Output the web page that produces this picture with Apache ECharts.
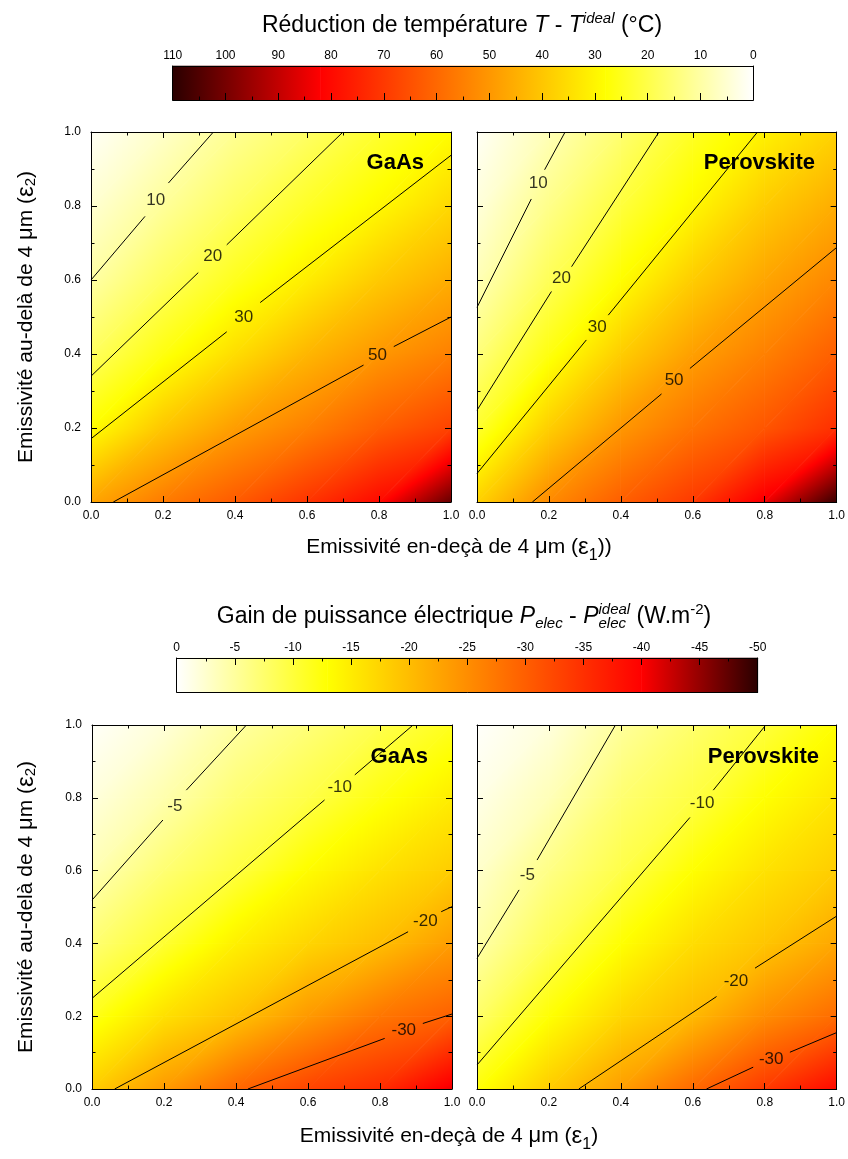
<!DOCTYPE html>
<html><head><meta charset="utf-8">
<script src="https://cdn.jsdelivr.net/npm/echarts@6/dist/echarts.min.js"></script>
<style>html,body{margin:0;padding:0;background:#fff}#c{width:848px;height:1159px}</style>
</head><body><div id="c"></div>
<script>
// ---------- DATA ----------
// grid nodes (both axes) and axis tick values
const gridNodes = [0, 0.2, 0.4, 0.6, 0.8, 1.0];
// colorbar tick labels
const tempTicks = [110, 100, 90, 80, 70, 60, 50, 40, 30, 20, 10, 0];
const powTicks = [0, -5, -10, -15, -20, -25, -30, -35, -40, -45, -50];
// colormaps (value, colour)
const tempStopV = [0, 28, 82, 110];
const tempStopC = ['#ffffff', '#ffff00', '#ff0000', '#2a0000'];
const powStopV = [-50, -40, -13, 0];
const powStopC = ['#2a0000', '#ff0000', '#ffff00', '#ffffff'];

// field values: one array per x node (x = 0,0.2,...,1), values listed for y = 0,0.2,...,1
const gaasTemp = [
  [47, 28.3, 17.7, 10, 5, 1],
  [56, 40, 26.3, 17.7, 11.2, 6],
  [63, 48.7, 35.2, 24.9, 17.6, 12],
  [71, 55, 43.4, 31.8, 23.8, 17],
  [80, 62, 50, 39.4, 29.5, 23],
  [102, 68, 55, 45.4, 36.3, 28.5]
];
const peroTemp = [
  [37.6, 22.8, 14.5, 8, 4, 1],
  [52.7, 38.3, 26.3, 18.5, 13, 8],
  [62, 50, 38.6, 28.3, 21.4, 15.7],
  [70, 57.7, 48.3, 38.8, 29.6, 24],
  [84, 64, 55, 47, 39, 31],
  [108, 72, 62, 53.5, 45.5, 37.5]
];
const gaasPow = [
  [-18.3, -11.7, -7.2, -3.8, -1.8, -0.3],
  [-23.7, -16.3, -10.5, -7.2, -4.2, -2],
  [-29.1, -19.5, -14.6, -9.8, -7.2, -4.8],
  [-32.8, -23.8, -17.5, -13.3, -9.4, -6.9],
  [-35.3, -27.5, -19.9, -16.1, -12.3, -9.1],
  [-41, -29.8, -23.4, -18.3, -14.9, -11.5]
];
const peroPow = [
  [-12.6, -7.7, -4.4, -2.6, -1.2, -0.2],
  [-18.4, -12.8, -8.7, -6.2, -3.6, -1.8],
  [-23.3, -17.3, -12.9, -9.3, -7.3, -5.1],
  [-28.9, -20.4, -16.6, -13, -9.6, -7.6],
  [-34, -25.2, -19.1, -16.1, -13, -10],
  [-39, -28.6, -22.3, -18.3, -15.7, -13]
];

// contour lines (segments broken where the label sits)
const gaasT10 = [[[0, 0.60], [0.150, 0.772]], [[0.215, 0.862], [0.34, 1.0]]];
const gaasT20 = [[[0, 0.34], [0.298, 0.62]], [[0.377, 0.695], [0.70, 1.0]]];
const gaasT30 = [[[0, 0.171], [0.377, 0.460]], [[0.47, 0.539], [1.0, 0.937]]];
const gaasT50 = [[[0.062, 0], [0.757, 0.370]], [[0.841, 0.42], [1.0, 0.50]]];
const peroT10 = [[[0, 0.526], [0.151, 0.819]], [[0.188, 0.898], [0.245, 1.0]]];
const peroT20 = [[[0, 0.248], [0.207, 0.569]], [[0.263, 0.636], [0.506, 1.0]]];
const peroT30 = [[[0, 0.077], [0.304, 0.438]], [[0.365, 0.505], [0.78, 1.0]]];
const peroT50 = [[[0.154, 0], [0.513, 0.292]], [[0.592, 0.361], [1.0, 0.688]]];
const gaasP5 = [[[0, 0.519], [0.197, 0.739]], [[0.262, 0.821], [0.429, 1.0]]];
const gaasP10 = [[[0, 0.249], [0.646, 0.794]], [[0.730, 0.863], [0.892, 1.0]]];
const gaasP20 = [[[0.063, 0], [0.878, 0.432]], [[0.970, 0.487], [1.0, 0.501]]];
const gaasP30 = [[[0.433, 0], [0.813, 0.139]], [[0.919, 0.180], [1.0, 0.206]]];
const peroP5 = [[[0, 0.359], [0.117, 0.547]], [[0.167, 0.629], [0.385, 1.0]]];
const peroP10 = [[[0, 0.066], [0.592, 0.746]], [[0.657, 0.821], [0.803, 1.0]]];
const peroP20 = [[[0.283, 0], [0.666, 0.254]], [[0.773, 0.332], [1.0, 0.475]]];
const peroP30 = [[[0.638, 0], [0.768, 0.06]], [[0.870, 0.101], [1.0, 0.155]]];

// contour labels [x, y, text]
const gaasTempLabels = [[0.18, 0.816, '10'], [0.338, 0.663, '20'], [0.424, 0.499, '30'], [0.796, 0.397, '50']];
const peroTempLabels = [[0.17, 0.862, '10'], [0.235, 0.605, '20'], [0.334, 0.472, '30'], [0.548, 0.33, '50']];
const gaasPowLabels = [[0.23, 0.776, '-5'], [0.688, 0.83, '-10'], [0.926, 0.462, '-20'], [0.866, 0.162, '-30']];
const peroPowLabels = [[0.14, 0.588, '-5'], [0.626, 0.786, '-10'], [0.72, 0.295, '-20'], [0.818, 0.082, '-30']];

const panelNames = ['GaAs', 'Perovskite', 'GaAs', 'Perovskite'];

// ---------- RENDERING ----------
const FONT = '"Liberation Sans", Arial, sans-serif';
function hex(h) { return [parseInt(h.substr(1, 2), 16), parseInt(h.substr(3, 2), 16), parseInt(h.substr(5, 2), 16)]; }
function colorAt(v, sv, sc) {
  const n = sv.length;
  if (v <= sv[0]) return 'rgb(' + hex(sc[0]).join(',') + ')';
  if (v >= sv[n - 1]) return 'rgb(' + hex(sc[n - 1]).join(',') + ')';
  let k = 0; while (k < n - 2 && v > sv[k + 1]) k++;
  const t = (v - sv[k]) / (sv[k + 1] - sv[k]);
  const a = hex(sc[k]), b = hex(sc[k + 1]);
  return 'rgb(' + a.map((c, i) => Math.round(c + (b[i] - c) * t)).join(',') + ')';
}
function triFill(p, f, sv, sc) {
  const d1x = p[1][0] - p[0][0], d1y = p[1][1] - p[0][1], d2x = p[2][0] - p[0][0], d2y = p[2][1] - p[0][1];
  const df1 = f[1] - f[0], df2 = f[2] - f[0];
  const det = d1x * d2y - d1y * d2x;
  const a = (df1 * d2y - df2 * d1y) / det, b = (d1x * df2 - d2x * df1) / det;
  const g2 = a * a + b * b;
  let kmin = 0, kmax = 0;
  for (let k = 1; k < 3; k++) { if (f[k] < f[kmin]) kmin = k; if (f[k] > f[kmax]) kmax = k; }
  const fmin = f[kmin], fmax = f[kmax];
  if (g2 < 1e-14 || fmax - fmin < 1e-9) return colorAt(fmin, sv, sc);
  const s = (fmax - fmin) / g2;
  const x0 = p[kmin][0], y0 = p[kmin][1];
  const stops = [{ offset: 0, color: colorAt(fmin, sv, sc) }];
  sv.forEach(v => { if (v > fmin && v < fmax) stops.push({ offset: (v - fmin) / (fmax - fmin), color: colorAt(v, sv, sc) }); });
  stops.push({ offset: 1, color: colorAt(fmax, sv, sc) });
  return { type: 'linear', x: x0, y: y0, x2: x0 + a * s, y2: y0 + b * s, colorStops: stops, global: true };
}
function heatRender(grid, sv, sc) {
  return function (params, api) {
    const i = api.value(2), j = api.value(3);
    const P = (a, b) => api.coord([gridNodes[i + a], gridNodes[j + b]]);
    const F = (a, b) => grid[i + a][j + b];
    const tri = (A, B, C) => {
      const pts = [P(A[0], A[1]), P(B[0], B[1]), P(C[0], C[1])];
      const fill = triFill(pts, [F(A[0], A[1]), F(B[0], B[1]), F(C[0], C[1])], sv, sc);
      return { type: 'polygon', shape: { points: pts }, style: { fill: fill, stroke: fill, lineWidth: 0.8 } };
    };
    return { type: 'group', children: [tri([0, 0], [1, 0], [1, 1]), tri([0, 0], [1, 1], [0, 1])] };
  };
}
function barRender(sv, sc) {
  return function (params, api) {
    const v0 = api.value(0), v1 = api.value(2);
    const pA = api.coord([v0, 0]), pB = api.coord([v1, 1]);
    const fill = { type: 'linear', x: pA[0], y: 0, x2: pB[0], y2: 0, global: true,
      colorStops: [{ offset: 0, color: colorAt(v0, sv, sc) }, { offset: 1, color: colorAt(v1, sv, sc) }] };
    return { type: 'rect', shape: { x: Math.min(pA[0], pB[0]), y: Math.min(pA[1], pB[1]), width: Math.abs(pB[0] - pA[0]), height: Math.abs(pB[1] - pA[1]) },
      style: { fill: fill, stroke: fill, lineWidth: 0.6 } };
  };
}

const grids = [
  { left: 91, top: 132, width: 360, height: 370 },
  { left: 477, top: 132, width: 360, height: 370 },
  { left: 92, top: 725, width: 360, height: 364 },
  { left: 477, top: 725, width: 360, height: 364 },
  { left: 172.7, top: 66, width: 580.6, height: 34 },
  { left: 176.7, top: 658, width: 581, height: 34 }
];
const xAxes = [], yAxes = [], series = [];
const lineCol = { color: '#000', width: 1 };
function panelAxes(g, showY) {
  const base = { type: 'value', gridIndex: g, min: gridNodes[0], max: gridNodes[gridNodes.length - 1], interval: gridNodes[1] - gridNodes[0], z: 10,
    axisLine: { show: true, onZero: false, lineStyle: lineCol },
    axisTick: { show: true, inside: true, length: 6, lineStyle: lineCol },
    minorTick: { show: true, splitNumber: 2, length: 3.5, lineStyle: lineCol },
    splitLine: { show: false }, minorSplitLine: { show: false } };
  const lab = (show, margin) => ({ show: show, margin: margin, color: '#000', fontSize: 12, fontFamily: FONT, formatter: v => v.toFixed(1) });
  xAxes.push(Object.assign({}, base, { position: 'bottom', axisLabel: lab(true, 8) }));
  xAxes.push(Object.assign({}, base, { position: 'top', axisLabel: { show: false } }));
  yAxes.push(Object.assign({}, base, { position: 'left', axisLabel: lab(showY, 10) }));
  yAxes.push(Object.assign({}, base, { position: 'right', axisLabel: { show: false } }));
}
panelAxes(0, true); panelAxes(1, false); panelAxes(2, true); panelAxes(3, false);

// colorbar axes
function cbAxes(g, ticks, labelTop, tickTop, interval) {
  const mn = Math.min(...ticks), mx = Math.max(...ticks);
  const base = { type: 'value', gridIndex: g, min: mn, max: mx, interval: interval, inverse: true, z: 10,
    axisLine: { show: true, onZero: false, lineStyle: lineCol }, splitLine: { show: false } };
  const tickOn = { axisTick: { show: true, inside: true, length: 7, lineStyle: lineCol }, minorTick: { show: true, splitNumber: 2, length: 3.5, lineStyle: lineCol } };
  const tickOff = { axisTick: { show: false }, minorTick: { show: false } };
  xAxes.push(Object.assign({}, base, tickTop ? tickOn : tickOff, { position: 'top',
    axisLabel: { show: true, margin: 4, color: '#000', fontSize: 12, fontFamily: FONT } }));
  xAxes.push(Object.assign({}, base, tickTop ? tickOff : tickOn, { position: 'bottom', axisLabel: { show: false } }));
  const yb = { type: 'value', gridIndex: g, min: 0, max: 1, z: 10, axisLine: { show: true, onZero: false, lineStyle: lineCol },
    axisTick: { show: false }, axisLabel: { show: false }, splitLine: { show: false } };
  yAxes.push(Object.assign({}, yb, { position: 'left' }));
  yAxes.push(Object.assign({}, yb, { position: 'right' }));
}
cbAxes(4, tempTicks, true, false, 10);
cbAxes(5, powTicks, true, true, 5);

// panels
const panelGrids = [gaasTemp, peroTemp, gaasPow, peroPow];
const panelStops = [[tempStopV, tempStopC], [tempStopV, tempStopC], [powStopV, powStopC], [powStopV, powStopC]];
const panelContours = [[gaasT10, gaasT20, gaasT30, gaasT50], [peroT10, peroT20, peroT30, peroT50],
  [gaasP5, gaasP10, gaasP20, gaasP30], [peroP5, peroP10, peroP20, peroP30]];
const panelLabels = [gaasTempLabels, peroTempLabels, gaasPowLabels, peroPowLabels];
panelGrids.forEach((grid, g) => {
  const cells = [];
  for (let i = 0; i < grid.length - 1; i++) for (let j = 0; j < grid[0].length - 1; j++) cells.push([gridNodes[i], gridNodes[j], i, j]);
  series.push({ type: 'custom', xAxisIndex: 2 * g, yAxisIndex: 2 * g, renderItem: heatRender(grid, panelStops[g][0], panelStops[g][1]),
    data: cells, clip: true, silent: true, z: 1, encode: { x: 0, y: 1 } });
  panelContours[g].forEach(c => c.forEach(seg => {
    series.push({ type: 'line', xAxisIndex: 2 * g, yAxisIndex: 2 * g, data: seg, showSymbol: false, symbol: 'none',
      lineStyle: { color: '#000', width: 1 }, silent: true, z: 3, clip: true });
  }));
  series.push({ type: 'scatter', xAxisIndex: 2 * g, yAxisIndex: 2 * g, symbolSize: 1, itemStyle: { color: 'rgba(0,0,0,0)' }, z: 4, silent: true,
    data: panelLabels[g].map(l => ({ value: [l[0], l[1]], name: l[2] })),
    label: { show: true, position: 'inside', formatter: '{b}', color: '#000', fontSize: 17, fontFamily: FONT } });
});
// colorbars
[[tempStopV, tempStopC, 8], [powStopV, powStopC, 10]].forEach(([sv, sc, ax]) => {
  const d = [];
  for (let k = 0; k < sv.length - 1; k++) d.push([sv[k], 0.5, sv[k + 1]]);
  series.push({ type: 'custom', xAxisIndex: ax, yAxisIndex: ax, renderItem: barRender(sv, sc), data: d, silent: true, z: 1, encode: { x: 0, y: 1 } });
});

// ---------- TEXT (titles) ----------
const mctx = document.createElement('canvas').getContext('2d');
function richLine(segs, cx, cy, rot) {
  let x = 0, prevX = 0; const items = [];
  segs.forEach(s => {
    const style = { fontSize: s.s, fontFamily: s.f || FONT, fontStyle: s.i ? 'italic' : 'normal', fontWeight: s.b ? 'bold' : 'normal' };
    mctx.font = style.fontStyle + ' ' + style.fontWeight + ' ' + s.s + 'px ' + style.fontFamily;
    const w = mctx.measureText(s.t).width;
    let sx;
    if (s.stack) { sx = prevX; x = Math.max(x, prevX + w); } else { sx = x; x += w; }
    prevX = sx;
    items.push({ sx: sx, dy: s.dy || 0, t: s.t, style: style });
  });
  const total = x;
  return { type: 'group', x: cx, y: cy, rotation: rot || 0, silent: true,
    children: items.map(it => ({ type: 'text', x: it.sx - total / 2, y: it.dy,
      style: Object.assign({ text: it.t, fill: '#000', align: 'left', verticalAlign: 'middle' }, it.style) })) };
}
const title1 = [{ t: 'Réduction de température ', s: 23 }, { t: 'T', s: 23, i: 1 }, { t: ' - ', s: 23 }, { t: 'T', s: 23, i: 1 },
  { t: 'ideal', s: 15, i: 1, dy: -7 }, { t: ' (°C)', s: 23 }];
const title2 = [{ t: 'Gain de puissance électrique ', s: 23 }, { t: 'P', s: 23, i: 1 }, { t: 'elec', s: 15, i: 1, dy: 7 },
  { t: ' - ', s: 23 }, { t: 'P', s: 23, i: 1 }, { t: 'ideal', s: 15, i: 1, dy: -7 }, { t: 'elec', s: 15, i: 1, dy: 7, stack: 1 },
  { t: ' (W.m', s: 23 }, { t: '-2', s: 15, dy: -7 }, { t: ')', s: 23 }];
const xTitleTop = [{ t: 'Emissivité en-deçà de 4 ', s: 21 }, { t: 'μ', s: 22 }, { t: 'm (', s: 21 }, { t: 'ε', s: 24 },
  { t: '1', s: 16, dy: 9 }, { t: '))', s: 21 }];
const xTitleBot = [{ t: 'Emissivité en-deçà de 4 ', s: 21 }, { t: 'μ', s: 22 }, { t: 'm (', s: 21 }, { t: 'ε', s: 24 },
  { t: '1', s: 16, dy: 9 }, { t: ')', s: 21 }];
const yTitle = [{ t: 'Emissivité au-delà de 4 ', s: 21 }, { t: 'μ', s: 22 }, { t: 'm (', s: 21 }, { t: 'ε', s: 24 },
  { t: '2', s: 15, dy: 5 }, { t: ')', s: 21 }];

const graphics = [
  richLine(title1, 462, 26, 0),
  richLine(title2, 464, 617, 0),
  richLine(xTitleTop, 459, 547, 0),
  richLine(xTitleBot, 449, 1136, 0),
  richLine(yTitle, 26, 317, Math.PI / 2),
  richLine(yTitle, 26, 907, Math.PI / 2)
];
const nameRight = [424, 815, 428, 819], nameY = [163, 163, 757, 757];
panelNames.forEach((n, g) => graphics.push({ type: 'text', x: nameRight[g], y: nameY[g], silent: true, z: 20,
  style: { text: n, align: 'right', verticalAlign: 'middle', fontSize: 22, fontWeight: 'bold', fontFamily: FONT, fill: '#000' } }));

const chart = echarts.init(document.getElementById('c'), null, { renderer: 'canvas' });
chart.setOption({
  animation: false, backgroundColor: '#ffffff',
  textStyle: { fontFamily: FONT },
  grid: grids, xAxis: xAxes, yAxis: yAxes, series: series, graphic: graphics
});
</script></body></html>
